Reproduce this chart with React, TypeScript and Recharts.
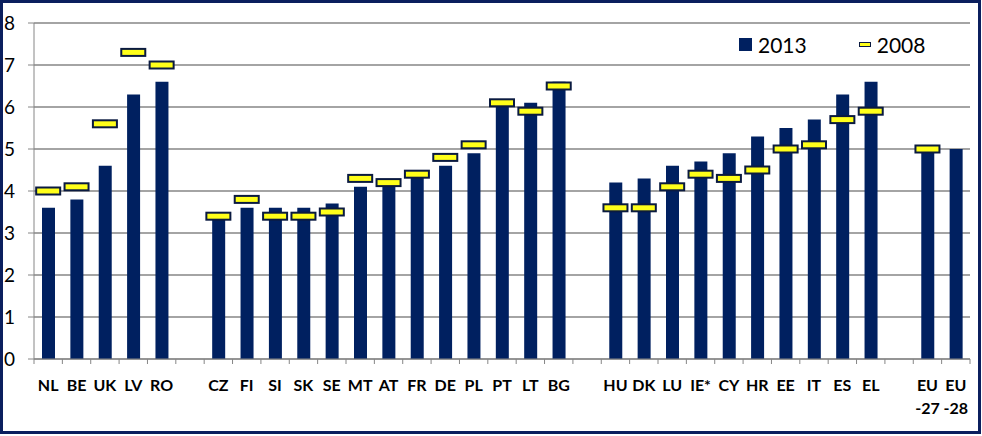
import { ComposedChart, Bar, Line, XAxis, YAxis, CartesianGrid, Legend } from "recharts";

const categories = [
  "NL", "BE", "UK", "LV", "RO", "",
  "CZ", "FI", "SI", "SK", "SE", "MT", "AT", "FR", "DE", "PL", "PT", "LT", "BG", " ",
  "HU", "DK", "LU", "IE*", "CY", "HR", "EE", "IT", "ES", "EL", "  ",
  "EU\n-27", "EU\n-28",
];

const values2013 = [
  3.6, 3.8, 4.6, 6.3, 6.6, null,
  3.4, 3.6, 3.6, 3.6, 3.7, 4.1, 4.2, 4.5, 4.6, 4.9, 6.0, 6.1, 6.6, null,
  4.2, 4.3, 4.6, 4.7, 4.9, 5.3, 5.5, 5.7, 6.3, 6.6, null,
  5.0, 5.0,
];

const values2008 = [
  4.0, 4.1, 5.6, 7.3, 7.0, null,
  3.4, 3.8, 3.4, 3.4, 3.5, 4.3, 4.2, 4.4, 4.8, 5.1, 6.1, 5.9, 6.5, null,
  3.6, 3.6, 4.1, 4.4, 4.3, 4.5, 5.0, 5.1, 5.7, 5.9, null,
  5.0, null,
];

const yTicks = [0, 1, 2, 3, 4, 5, 6, 7, 8];

const NAVY = "#002060";
const YELLOW = "#FFFF1A";
const GRID = "#868686";
const FONT = "Lato, 'Open Sans', sans-serif";

const PLOT_W = 936;
const BAND = PLOT_W / categories.length;

const data = categories.map((name, i) => ({
  name,
  v2013: values2013[i],
  v2008: values2008[i],
}));

function CatTick(props: any) {
  const { x, y, payload, index } = props;
  const lines = String(payload.value).split("\n");
  const last = index === categories.length - 1;
  return (
    <g>
      <line x1={x - BAND / 2} x2={x - BAND / 2} y1={y} y2={y + 5} stroke={GRID} />
      {last && <line x1={x + BAND / 2} x2={x + BAND / 2} y1={y} y2={y + 5} stroke={GRID} />}
      <text
        x={x}
        y={y + 32}
        textAnchor="middle"
        fontFamily={FONT}
        fontWeight="bold"
        fontSize={16}
        fill="#000"
      >
        {lines.map((l, k) => (
          <tspan key={k} x={x} dy={k === 0 ? 0 : 23}>
            {l}
          </tspan>
        ))}
      </text>
    </g>
  );
}

function DashDot(props: any) {
  const { cx, cy, value, index } = props;
  if (value == null || cx == null || cy == null) return <g key={index} />;
  return (
    <rect
      key={index}
      x={cx - 12}
      y={cy - 3.5}
      width={24}
      height={7}
      fill={YELLOW}
      stroke="#0a1a40"
      strokeWidth={2}
    />
  );
}

function LegendBox() {
  return (
    <div style={{ display: "flex", alignItems: "center", fontFamily: FONT, fontSize: 21, color: "#000" }}>
      <span style={{ width: 13, height: 13, background: NAVY, display: "inline-block", marginRight: 6 }} />
      <span>2013</span>
      <span
        style={{
          width: 10,
          height: 3,
          background: YELLOW,
          border: "1.5px solid #0a1a40",
          display: "inline-block",
          marginLeft: 52,
          marginRight: 6,
        }}
      />
      <span>2008</span>
    </div>
  );
}

export default function App() {
  return (
    <div
      style={{
        position: "absolute",
        left: 0,
        top: 0,
        width: 981,
        height: 434,
        border: "3px solid #0b1f5e",
        boxSizing: "border-box",
        background: "#fff",
      }}
    >
      <ComposedChart
        width={975}
        height={428}
        data={data}
        margin={{ top: 20, right: 8, left: 0, bottom: 0 }}
      >
        <CartesianGrid vertical={false} stroke={GRID} strokeWidth={1.3} />
        <XAxis
          dataKey="name"
          interval={0}
          height={72}
          stroke={GRID}
          tickLine={false}
          tickSize={0}
          tickMargin={0}
          tick={<CatTick />}
        />
        <YAxis
          width={31}
          domain={[0, 8]}
          ticks={yTicks}
          stroke={GRID}
          tickSize={6}
          tickMargin={13}
          tick={{ fontFamily: FONT, fontSize: 19, fill: "#000" }}
        />
        <Legend
          verticalAlign="middle"
          align="center"
          wrapperStyle={{ position: "absolute", top: 29, left: 736, width: 220 }}
          content={<LegendBox />}
        />
        <Bar dataKey="v2013" name="2013" fill={NAVY} barSize={13} isAnimationActive={false} />
        <Line
          dataKey="v2008"
          name="2008"
          stroke="none"
          dot={<DashDot />}
          activeDot={false}
          isAnimationActive={false}
        />
      </ComposedChart>
    </div>
  );
}
